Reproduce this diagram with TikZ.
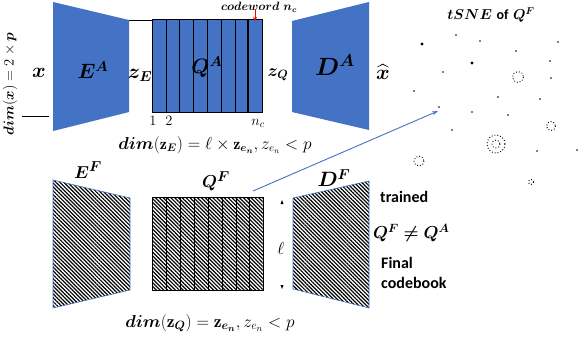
\documentclass[tikz,border=0pt]{standalone}
\usepackage{amsmath,bm}
\usepackage{fontspec}
\newfontfamily\carl{Carlito}
\usetikzlibrary{patterns.meta,arrows.meta}
\definecolor{qblue}{HTML}{4472C4}
\begin{document}
\begin{tikzpicture}[x=1pt,y=-1pt,
  bluefill/.style={fill=qblue,draw=none},
  hatch/.style={pattern={Lines[angle=-45,distance=2.7pt,line width=1.2pt]}},
  lbl/.style={inner sep=0pt},
  sans/.style={inner sep=0pt,anchor=west,font=\carl\bfseries\fontsize{16}{18}\selectfont},
  dot/.style={fill=black,draw=none},
  ring/.style={draw=black,dotted,line width=0.9pt}]
\useasboundingbox (0,0) rectangle (578,340);
% ---------- top: autoencoder A ----------
\fill[bluefill] (53,2) -- (129,20) -- (129,112) -- (53,131) -- cycle;
\draw[line width=0.8pt] (129,20) -- (152,20);
\draw[line width=0.8pt] (22,116) -- (49,116);
\fill[bluefill] (152,19) rectangle (262,112);
\foreach \xx in {166,179,193,207,221,235} \draw[line width=0.9pt] (\xx,19) -- (\xx,112);
\draw[line width=1.6pt] (248,19) -- (248,112);
\draw[line width=0.9pt] (152,19) rectangle (262,112);
\fill[bluefill] (292,21) -- (369,2) -- (369,130) -- (292,112) -- cycle;
\node[lbl,font=\fontsize{20}{22}\selectfont] (x) at (39,73) {$\boldsymbol{x}$};
\node[lbl,font=\fontsize{20}{22}\selectfont] (EA) at (93,70) {$\boldsymbol{E^A}$};
\node[lbl,font=\fontsize{20}{22}\selectfont] (zE) at (140,75) {$\boldsymbol{z_E}$};
\node[lbl,font=\fontsize{21}{23}\selectfont] (QA) at (207,67) {$\boldsymbol{Q^A}$};
\node[lbl,font=\fontsize{18}{20}\selectfont] (zQ) at (278,75) {$\boldsymbol{z_Q}$};
\node[lbl,font=\fontsize{23}{25}\selectfont] (DA) at (335,65) {$\boldsymbol{D^A}$};
\node[lbl,font=\fontsize{20}{22}\selectfont] (xh) at (383,72) {$\widehat{\boldsymbol{x}}$};
\node[lbl,font=\fontsize{12}{14}\selectfont] (cw) at (259,7) {$\boldsymbol{codeword\ n_c}$};
\coordinate (cwtip) at (255,21);
\draw[red,line width=1pt,-{Stealth[length=4pt,width=4pt]}] (255,9) -- (cwtip);
\node[lbl,font=\fontsize{14}{16}\selectfont] (one) at (153,121) {$1$};
\node[lbl,font=\fontsize{14}{16}\selectfont] (two) at (169,121) {$2$};
\node[lbl,font=\fontsize{14}{16}\selectfont] (nc) at (258,123) {$n_c$};
\node[lbl,font=\fontsize{16}{18}\selectfont] (dimE) at (215,145)
  {$\boldsymbol{dim}(\mathbf{z}_{\boldsymbol{E}}) = \ell \times \mathbf{z}_{\boldsymbol{e_n}}, z_{e_n} < p$};
\node[lbl,rotate=90,font=\fontsize{15}{17}\selectfont] (dimx) at (10,84)
  {$\boldsymbol{dim}(\boldsymbol{x}) = 2 \times \boldsymbol{p}$};
% ---------- bottom: final model F ----------
\draw[hatch,draw=qblue,line width=0.6pt] (53,180) -- (130,198) -- (130,290) -- (53,308) -- cycle;
\draw[hatch,line width=0.9pt] (152,197) rectangle (263,290);
\foreach \xx in {166,180,194,208,222,236,249} \draw[line width=0.9pt] (\xx,197) -- (\xx,290);
\draw[hatch,draw=qblue,line width=0.6pt] (293,198) -- (369,181) -- (369,308) -- (293,289) -- cycle;
\node[lbl,font=\fontsize{19}{21}\selectfont] (EF) at (88,170) {$\boldsymbol{E^F}$};
\node[lbl,font=\fontsize{19}{21}\selectfont] (QF) at (216,181) {$\boldsymbol{Q^F}$};
\node[lbl,font=\fontsize{20}{22}\selectfont] (DF) at (334,178) {$\boldsymbol{D^F}$};
\node[lbl,font=\fontsize{16}{18}\selectfont] (ell) at (281,248) {$\ell$};
\fill (280.5,204) -- (283.5,204) -- (282,200) -- cycle;
\fill (280.5,285) -- (283.5,285) -- (282,289) -- cycle;
\node[sans] (trained) at (380,197) {trained};
\node[lbl,anchor=west,font=\fontsize{17}{19}\selectfont] (neq) at (373,233) {$\boldsymbol{Q^F \neq Q^A}$};
\node[sans] (final) at (381,263) {Final};
\node[sans] (codebook) at (381,283) {codebook};
\node[lbl,font=\fontsize{17.5}{19}\selectfont] (dimQ) at (210,323)
  {$\boldsymbol{dim}(\mathbf{z}_{\boldsymbol{Q}}) = \mathbf{z}_{\boldsymbol{e_n}}, z_{e_n} < p$};
% ---------- tSNE ----------
\node[lbl,font=\fontsize{14}{16}\selectfont] (tsne) at (491,15) {$\boldsymbol{tSNE}$ {\carl\bfseries of} $\boldsymbol{Q^F}$};
\coordinate (qfcorner) at (253,191);
\coordinate (tsnept) at (438,111);
\draw[qblue,line width=0.9pt,-{Stealth[length=6pt,width=4pt]}] (qfcorner) -- (tsnept);
\foreach \px/\py in {456/35,480/41,558/42,516/51,443/72,550/61,551/78,414/91,498/97,540/99,439/107,472/112,508/115,452/130,537/151,577/150}
  \fill[dot] (\px,\py) circle (0.9);
\foreach \px/\py in {422/44,472/63}
  \fill[dot] (\px,\py) circle (1.6);
\draw[ring] (518,77) circle (5.5);
\draw[ring] (551,126) circle (4.5);
\draw[ring] (496,144) circle (9);
\draw[ring] (496,144) circle (4);
\draw[ring] (419,161) circle (5);
\draw[ring] (531,182) circle (2.5);
\end{tikzpicture}
\end{document}
